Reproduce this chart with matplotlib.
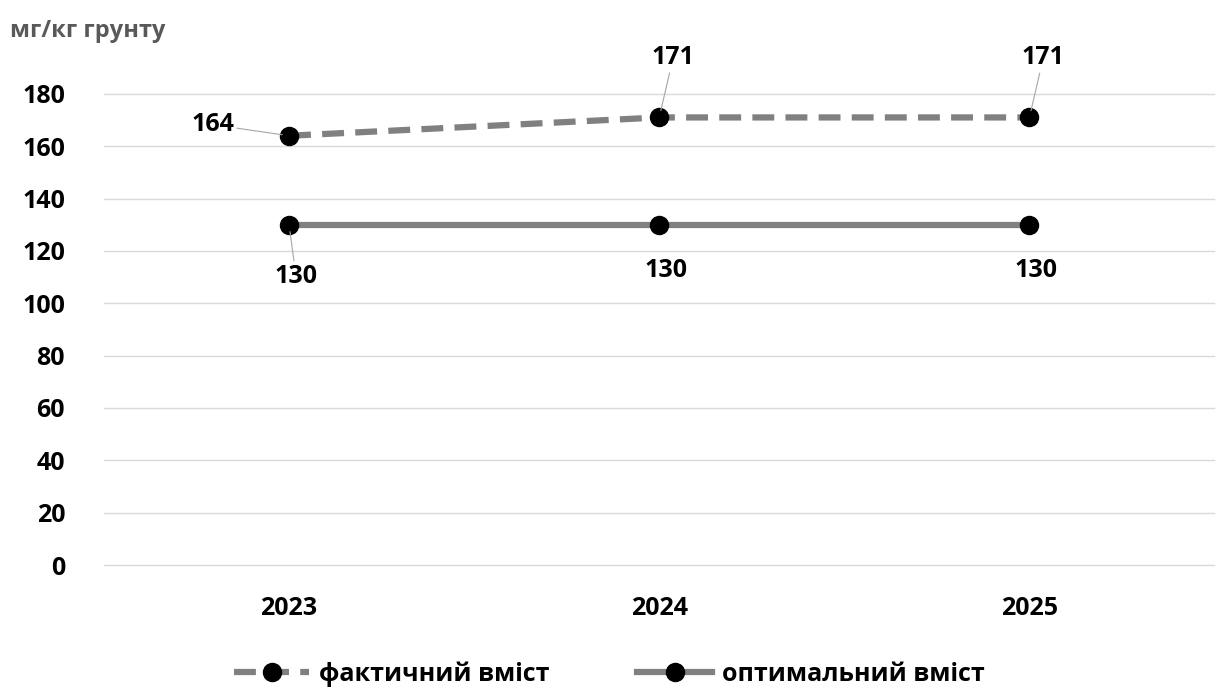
import matplotlib.pyplot as plt

plt.rcParams['font.family'] = ['Open Sans', 'DejaVu Sans']

years = ["2023", "2024", "2025"]
actual = [164, 171, 171]
optimal = [130, 130, 130]
y_ticks = [0, 20, 40, 60, 80, 100, 120, 140, 160, 180]

fig = plt.figure(figsize=(12.19, 6.99), dpi=100)
ax = fig.add_axes([0.0853, 0.1917, 0.911, 0.674])

x = list(range(len(years)))

ax.plot(x, actual, color="#808080", linewidth=4.5, linestyle=(0, (3.5, 1.8)),
        marker="o", markersize=13, markerfacecolor="black", markeredgecolor="black",
        label="фактичний вміст", zorder=3)
ax.plot(x, optimal, color="#808080", linewidth=4.5, linestyle="-",
        marker="o", markersize=13, markerfacecolor="black", markeredgecolor="black",
        label="оптимальний вміст", zorder=3)

# Data labels with leader lines
fs = 18
leader = dict(arrowstyle="-", color="#a6a6a6", lw=0.8, shrinkA=0, shrinkB=5)
ax.annotate(str(actual[0]), xy=(x[0], actual[0]), xytext=(-55, 8), textcoords="offset points",
            ha="center", va="center", fontsize=fs, fontweight="bold", arrowprops=leader)
for i in (1, 2):
    ax.annotate(str(actual[i]), xy=(x[i], actual[i]), xytext=(10, 43), textcoords="offset points",
                ha="center", va="center", fontsize=fs, fontweight="bold", arrowprops=leader)
ax.annotate(str(optimal[0]), xy=(x[0], optimal[0]), xytext=(5, -37), textcoords="offset points",
            ha="center", va="center", fontsize=fs, fontweight="bold", arrowprops=leader)
for i in (1, 2):
    ax.annotate(str(optimal[i]), xy=(x[i], optimal[i]), xytext=(5, -33), textcoords="offset points",
                ha="center", va="center", fontsize=fs, fontweight="bold")

ax.set_xlim(-0.5, 2.5)
ax.set_ylim(0, 180)
ax.set_yticks(y_ticks)
ax.set_xticks(x)
ax.set_xticklabels(years)
ax.tick_params(axis="both", length=0, labelsize=fs)
ax.tick_params(axis="y", pad=28)
ax.tick_params(axis="x", pad=22)
for lbl in ax.get_xticklabels() + ax.get_yticklabels():
    lbl.set_fontweight("bold")

ax.grid(axis="y", color="#d9d9d9", linewidth=1)
for gl in ax.get_ygridlines():
    gl.set_clip_on(False)
ax.set_axisbelow(True)
for s in ax.spines.values():
    s.set_visible(False)

fig.text(0.008, 0.955, "мг/кг грунту", fontsize=17, fontweight="bold", color="#595959",
         ha="left", va="center")

leg = fig.legend(loc="lower center", bbox_to_anchor=(0.5, -0.015), ncol=2, frameon=False,
                 fontsize=fs, handlelength=3, columnspacing=3.5, handletextpad=0.4)
for t in leg.get_texts():
    t.set_fontweight("bold")

fig.savefig("out.png", dpi=100)
